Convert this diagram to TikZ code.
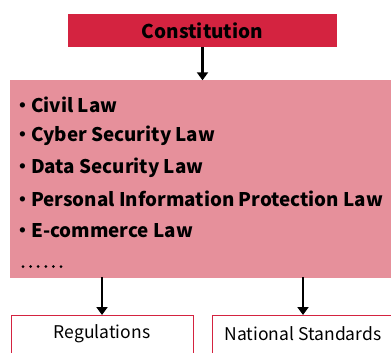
\documentclass[tikz,border=0pt]{standalone}
\usepackage{fontspec}
\setmainfont{Noto Sans CJK SC}
\usetikzlibrary{arrows.meta}
\definecolor{lawred}{HTML}{D42340}
\definecolor{lawpink}{HTML}{E6909B}
\newcommand{\lawbullet}{\llap{\makebox[16pt][c]{\textbullet}}}
\tikzset{
  topbox/.style={fill=lawred, draw=none, minimum width=269pt, minimum height=33pt,
    inner sep=0pt, font=\fontsize{19pt}{21pt}\selectfont\bfseries},
  lawbox/.style={fill=lawpink, draw=none, inner sep=0pt},
  lawitem/.style={anchor=west, inner sep=0pt, font=\fontsize{18.8pt}{21pt}\selectfont\bfseries},
  outbox/.style={draw=lawred, line width=1.3pt, fill=white, inner sep=0pt,
    minimum height=50pt},
  outtext/.style={font=\fontsize{17.5pt}{20pt}\selectfont},
  flow/.style={-{Triangle[length=8pt,width=11pt]}, line width=2.2pt, black}
}
\begin{document}
\begin{tikzpicture}[x=1pt, y=-1pt]
  \useasboundingbox (0,0) rectangle (391,353);
  % source of all law
  \node[topbox] (const) at (202.5,30.5) {Constitution};
  % laws box
  \node[lawbox, minimum width=385pt, minimum height=197pt] (laws) at (202.5,179) {};
  \node[lawitem] (l1) at (31,104.5) {\lawbullet Civil Law};
  \node[lawitem] (l2) at (31,136) {\lawbullet Cyber Security Law};
  \node[lawitem] (l3) at (31,167.5) {\lawbullet Data Security Law};
  \node[lawitem] (l4) at (31,199) {\lawbullet Personal Information Protection Law};
  \node[lawitem] (l5) at (31,230.5) {\lawbullet E-commerce Law};
  \foreach \i in {0,...,5} \fill (23+7.6*\i,266.5) circle (1.5pt);
  % derived instruments
  \node[outbox, minimum width=182pt, anchor=north west] (reg) at (11,315) {};
  \node[outbox, minimum width=190pt, anchor=north west] (std) at (212,315) {};
  \node[outtext] (regt) at (102,334) {Regulations};
  \node[outtext] (stdt) at (303,334) {National Standards};
  % connectors
  \coordinate (a1) at (102,277);
  \coordinate (a2) at (303,277);
  \draw[flow] (const.south) -- (laws.north);
  \draw[flow] (a1) -- (a1 |- reg.north);
  \draw[flow] (a2) -- (a2 |- std.north);
\end{tikzpicture}
\end{document}
